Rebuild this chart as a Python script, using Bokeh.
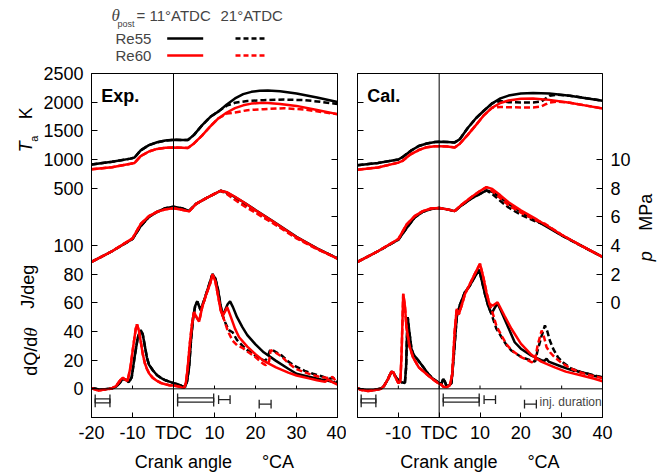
import math
from bokeh.plotting import figure
from bokeh.models import Range1d, LinearAxis, FixedTicker, Span, Label
from bokeh.layouts import column, row
from bokeh.embed import file_html
from bokeh.resources import INLINE

FONT = "Liberation Sans"
SERIF = "Liberation Serif"
BLACK = "#000000"
RED = "#ff0000"

# ---------------- axes / ticks ----------------
x_lim = (-20, 40)
dq_lim = (-20, 220)       # heat release rate axis (J/deg), left
T_lim = (-3500, 2500)     # temperature axis (K), upper left
p_lim = (-8, 16)          # pressure axis (MPa), right
x_ticks = [-20, -10, 0, 10, 20, 30, 40]
x_tick_labels = ["-20", "-10", "TDC", "10", "20", "30", "40"]
dq_ticks = [0, 20, 40, 60, 80, 100]
T_ticks = [500, 1000, 1500, 2000, 2500]
p_ticks = [0, 2, 4, 6, 8, 10]

# ---------------- Exp. panel data ----------------
exp_T_ang = [-20, -15, -10.5, -9.5, -8, -6, -4, -2, 0, 2, 3.5, 5, 7, 9, 11, 13, 15, 17, 19, 21, 23, 26, 30, 35, 40]
exp_T_re55_11 = [912, 960, 1015, 1035, 1160, 1250, 1300, 1330, 1344, 1342, 1340, 1430, 1600, 1745, 1840, 1960, 2065, 2140, 2180, 2198, 2202, 2190, 2150, 2080, 2002]
exp_T_re60_11 = [829, 865, 925, 940, 1060, 1140, 1185, 1205, 1210, 1207, 1200, 1280, 1420, 1580, 1720, 1820, 1895, 1945, 1975, 1985, 1985, 1970, 1935, 1865, 1791]
exp_T_tail_ang = [13, 15, 18, 22, 27, 32, 36, 40]
exp_T_re55_21_tail = [1940, 1990, 2020, 2035, 2045, 2035, 2005, 1967]
exp_T_re60_21_tail = [1800, 1820, 1860, 1878, 1895, 1870, 1830, 1790]

exp_p_ang = [-20, -15, -10, -8, -6, -4, -2, 0, 2, 3.8, 5.5, 8, 10, 11.5, 13, 15, 17.5, 20, 24, 30, 35, 40]
exp_p_re55_11 = [2.85, 3.6, 4.45, 5.35, 6.0, 6.35, 6.6, 6.7, 6.6, 6.42, 6.9, 7.3, 7.6, 7.82, 7.7, 7.38, 6.95, 6.48, 5.74, 4.6, 3.8, 3.1]
exp_p_re60_11 = [2.85, 3.6, 4.5, 5.5, 6.05, 6.35, 6.52, 6.6, 6.5, 6.38, 6.9, 7.3, 7.6, 7.82, 7.72, 7.4, 6.95, 6.45, 5.72, 4.58, 3.78, 3.08]
exp_p_tail_ang = [13, 14, 16, 18, 20, 24, 30, 35, 40]
exp_p_re55_21_tail = [7.62, 7.45, 7.05, 6.7, 6.35, 5.65, 4.55, 3.78, 3.1]
exp_p_re60_21_tail = [7.6, 7.38, 6.98, 6.62, 6.28, 5.6, 4.5, 3.75, 3.08]

exp_dq_ang_re55 = [-20, -19, -18, -17, -16, -15, -14, -13, -12.4, -11.5, -10.9, -10.2, -9.5, -8.7, -8.0, -7.5, -7, -6.5, -6,
                   -5, -4, -3, -2, -1, 0, 1, 2, 2.8, 3.3, 3.8, 4.3, 4.8, 5.3, 5.8, 6.2, 6.6, 7.5, 8.5, 9.5, 10.2, 10.8,
                   11.5, 12, 12.6, 13.2, 13.8, 14.5, 15.5, 16.8, 18, 20, 22, 25, 28, 30, 33, 36, 38, 40]
exp_dq_re55_11 = [0.5, 0, -0.7, -0.5, 0, 0.3, 1.5, 4.5, 7, 6.2, 4.6, 8, 22, 36, 41, 38, 30, 22, 17,
                  12.8, 9.5, 7.5, 6, 5, 4, 3.2, 2, 1.2, 5, 15, 35, 50, 58, 61, 58, 55, 62, 71, 80, 77, 70,
                  58, 51, 55, 59, 61, 57, 50, 43, 37.5, 31, 25.5, 19.5, 14, 10.5, 8.5, 6.5, 5.5, 4]
exp_dq_ang_re60 = [-20, -19, -18.3, -17, -16, -15, -14, -13, -12.4, -11.8, -11.2, -10.5, -9.8, -9.2, -8.9, -8.4, -7.5, -7,
                   -6.5, -5.9, -5, -4, -3, -2, -1, 0, 1, 2, 2.6, 3, 3.4, 4, 4.5, 5, 5.6, 6.25, 7, 8,
                   9, 9.5, 10.2, 10.8, 11.5, 12, 12.6, 13.1, 14, 15, 16, 18, 19.9, 22, 25, 28, 30, 33, 35, 36.3,
                   37, 37.8, 38.5, 40]
exp_dq_re60_11 = [0.3, -0.5, -1.3, -0.5, -0.2, 0.3, 2, 6, 7.7, 6.5, 5.5, 15, 30, 42, 45, 40, 24.4, 18,
                  14, 10.5, 7.5, 5.5, 4, 3.2, 2.5, 2.3, 1.8, 1, 0.7, 4, 12.8, 32, 45, 53.5, 50, 47, 57, 66,
                  74, 80, 75, 66, 55, 51, 54, 57, 50, 42, 36, 29.5, 24.4, 19.5, 15, 11.3, 9.3, 7.3, 6, 5.3,
                  5, 6.5, 5, 3]
exp_dq_tail_ang_re55 = [12.8, 13.5, 14.4, 15.5, 16.8, 18, 19.9, 21, 22.3, 22.8, 23.5, 24.2, 26.5, 28, 29.8, 32, 34, 36.3, 38, 39, 40]
exp_dq_re55_21_tail = [45, 41, 39.5, 34, 30.2, 27, 23.2, 21, 19.7, 21, 26.7, 27, 23, 19, 15.6, 12.5, 10.5, 8.6, 7, 7.5, 5.3]
exp_dq_tail_ang_re60 = [12.6, 13.3, 14.4, 15.5, 16.8, 18, 19.9, 21, 21.9, 22.5, 23.3, 23.7, 24.5, 26.5, 28, 29.8, 32, 34, 36.3, 38, 38.8, 40]
exp_dq_re60_21_tail = [46, 40, 33.7, 30.5, 28.6, 26, 22.3, 19.5, 17.4, 16.5, 19, 27, 26, 22.3, 18, 14, 11.5, 9.5, 8, 7.5, 8.3, 4]

# ---------------- Cal. panel data ----------------
cal_T_ang = [-20, -15, -10, -9, -7, -5, -3, -1, 0, 2, 3.8, 5, 7, 9, 11, 13, 15, 17, 20, 23, 27, 32, 36, 40]
cal_T_re55_11 = [899, 940, 1000, 1040, 1150, 1235, 1280, 1305, 1310, 1305, 1298, 1350, 1550, 1720, 1855, 1980, 2065, 2115, 2150, 2160, 2150, 2113, 2070, 2025]
cal_T_re60_11 = [822, 860, 945, 975, 1090, 1165, 1215, 1232, 1233, 1225, 1210, 1270, 1430, 1600, 1775, 1905, 1985, 2030, 2060, 2066, 2040, 1990, 1940, 1890]
cal_T_tail_ang = [15, 17, 20, 23, 25, 26, 27, 29, 32, 36, 40]
cal_T_re55_21_tail = [2020, 2000, 1995, 1995, 2010, 2060, 2110, 2130, 2113, 2070, 2025]
cal_T_re60_21_tail = [1915, 1912, 1908, 1908, 1925, 1960, 1995, 2010, 1990, 1940, 1890]

cal_p_ang = [-20, -15, -10, -8, -6, -4, -2, 0, 2, 3.8, 5.5, 8, 10, 11.6, 13, 15, 17, 20, 24, 30, 35, 40]
cal_p_re55_11 = [2.85, 3.6, 4.4, 5.2, 5.95, 6.35, 6.55, 6.62, 6.52, 6.4, 6.8, 7.3, 7.6, 7.84, 7.75, 7.35, 6.9, 6.35, 5.7, 4.7, 3.95, 3.2]
cal_p_re60_11 = [2.85, 3.6, 4.45, 5.45, 6.05, 6.4, 6.58, 6.62, 6.52, 6.4, 6.85, 7.4, 7.8, 8.07, 7.95, 7.5, 7.02, 6.45, 5.8, 4.75, 3.95, 3.2]
cal_p_tail_ang = [13, 15, 17, 20, 23, 26, 30, 35, 40]
cal_p_re55_21_tail = [7.6, 7.1, 6.65, 6.15, 5.75, 5.45, 4.7, 3.95, 3.2]
cal_p_re60_21_tail = [7.8, 7.3, 6.8, 6.3, 5.85, 5.5, 4.75, 3.95, 3.2]

cal_dq_ang_re55 = [-20, -19, -17.4, -16, -14.2, -13.5, -12.5, -11.7, -11.2, -10.9, -10, -9.2, -8.4, -8.1, -7.9, -7.7, -7.4, -7.0, -6.8, -6.3,
                   -5.1, -4, -2.7, -1.5, 0, 0.5, 1, 1.4, 1.8, 2.5, 3, 3.5, 4.3, 5, 6.3, 7.5, 8.5, 9.8, 10.4, 11.2,
                   12, 12.8, 13.5, 14.3, 15.5, 16.9, 18.5, 20, 22.6, 25, 25.8, 26.3, 26.8, 29.9, 33, 33.5, 34, 36.5, 38, 40]
cal_dq_re55_11 = [0.3, -0.5, -1.2, -0.8, 0.3, 2, 7, 12, 11.5, 9.4, 6, 4.6, 4, 15, 35, 50, 42, 33, 28, 24,
                  19.7, 15.5, 10.5, 7, 4, 3, 7, 5, 2, 2.5, 4, 20, 50, 58, 67.4, 72, 77, 83, 76, 66.3,
                  58, 52.3, 56, 59.7, 52, 43, 32.5, 28, 23.2, 20, 19.5, 21, 19, 15.6, 12.5, 13, 12, 10.5, 9, 8.1]
cal_dq_ang_re60 = [-20, -19, -17.4, -16, -14.2, -13.5, -12.5, -11.7, -11.2, -10.7, -10, -9.5, -9.2, -8.8, -8.4, -8, -7.3, -6.4, -5, -2.7,
                   -1, 0, 0.5, 1, 1.8, 2.6, 3.2, 3.8, 4.3, 4.8, 5.5, 6.3, 7.5, 8.7, 10, 10.8, 11.6, 12.3, 13.1, 14.3,
                   16, 17.7, 20, 22.6, 25, 28.3, 31, 34.9, 38, 40]
cal_dq_re60_11 = [0.3, -0.8, -1.5, -1, 0, 2, 7, 12, 11.5, 8, 4, 5, 25, 66.3, 58, 43, 30, 22, 15, 9.3,
                  5.5, 3.5, 3, 1.5, 1, 2.5, 10, 40, 55.8, 52, 58, 66, 73, 80, 87.2, 78, 67, 59.3, 58, 60.4,
                  51, 41.9, 31.5, 23.7, 19, 15, 12, 9.3, 7, 5.3]
cal_dq_tail_ang_re55 = [14, 15.3, 16.5, 17.7, 20.2, 22.6, 23.5, 24.1, 25, 25.9, 26.5, 27.1, 28, 29.1, 30.5, 32.4, 33.5, 35, 37, 40]
cal_dq_re55_21_tail = [42, 36, 30.5, 26.7, 22, 19.7, 19, 26.7, 36, 44.2, 40, 33.7, 27.5, 22, 18, 14, 13, 11.5, 10, 8]
cal_dq_tail_ang_re60 = [13.2, 14, 15.3, 16.5, 17.7, 20.2, 22.6, 23.4, 24.1, 25.1, 25.7, 26.3, 27.3, 28.3, 30, 32.4, 35, 37, 40]
cal_dq_re60_21_tail = [52, 44, 37, 31, 27, 22, 18.6, 19, 30.2, 40.7, 36, 29, 25, 22, 18, 14, 11, 9.5, 7.4]

# injection durations (deg CA) and their row (in dQ units)
inj_start = [-19.1, -19.1, 1.0, 1.0, 11.0, 20.9]
inj_end = [-15.5, -15.5, 9.8, 9.8, 13.8, 23.8]
inj_level = [-7.0, -9.8, -6.3, -9.3, -7.5, -10.7]

# ---------------- layout sizes ----------------
LEG_H = 63
MAIN_H = 475 - LEG_H
TOP_B = 10
BOT_B = 58


def join(head_x, head_y, split, tail_x, tail_y):
    xs = [a for a in head_x if a <= split]
    ys = [b for a, b in zip(head_x, head_y) if a <= split]
    return xs + list(tail_x), ys + list(tail_y)


def t_on_dq(t):
    return round(dq_lim[0] + (t - T_lim[0]) * (dq_lim[1] - dq_lim[0]) / (T_lim[1] - T_lim[0]), 6)


def style_axis(ax, show_labels, tick_in):
    ax.major_tick_in = tick_in
    ax.major_tick_out = 0
    ax.minor_tick_in = 0
    ax.minor_tick_out = 0
    ax.axis_line_color = BLACK
    ax.major_tick_line_color = BLACK
    ax.major_label_text_font = FONT
    if show_labels:
        ax.major_label_text_font_size = "18px"
        ax.major_label_text_color = BLACK
        ax.major_label_standoff = 8
    else:
        ax.major_label_text_font_size = "1px"
        ax.major_label_text_color = None
        ax.major_label_standoff = 0


def make_panel(width, bl, br, tag, T, P, Q, left_labels, right_labels, xt, xl):
    f = figure(width=width, height=MAIN_H, x_range=Range1d(*x_lim), y_range=Range1d(*dq_lim),
               output_backend="svg", toolbar_location=None,
               min_border_left=bl, min_border_right=br, min_border_top=TOP_B, min_border_bottom=BOT_B)
    f.extra_y_ranges = {"T": Range1d(*T_lim), "p": Range1d(*p_lim)}
    f.xgrid.visible = False
    f.ygrid.visible = False
    f.outline_line_color = BLACK
    f.outline_line_width = 1
    f.background_fill_color = "white"
    f.border_fill_color = "white"

    xa = f.xaxis[0]
    xa.ticker = FixedTicker(ticks=xt)
    xa.major_label_overrides = {k: v for k, v in zip(xt, xl)}
    style_axis(xa, True, 5)
    xa.major_label_standoff = 5
    xa.axis_label = "Crank angle\u00a0\u00a0\u00a0\u00a0\u00a0\u00a0°CA"
    xa.axis_label_text_font = FONT
    xa.axis_label_text_font_style = "normal"
    xa.axis_label_text_font_size = "18px"
    xa.axis_label_text_color = BLACK
    xa.axis_label_standoff = 6

    ya = f.yaxis[0]
    yt = dq_ticks + [t_on_dq(t) for t in T_ticks]
    ylabels = [str(v) for v in dq_ticks] + [str(t) for t in T_ticks]
    ya.ticker = FixedTicker(ticks=yt)
    ya.major_label_overrides = {k: v for k, v in zip(yt, ylabels)}
    style_axis(ya, left_labels, 6)

    ra = LinearAxis(y_range_name="p", ticker=FixedTicker(ticks=p_ticks))
    style_axis(ra, right_labels, 6)
    f.add_layout(ra, "right")

    # reference lines: TDC and zero heat release
    f.add_layout(Span(location=0, dimension="height", line_color=BLACK, line_width=1))
    f.add_layout(Span(location=0, dimension="width", line_color=BLACK, line_width=1))
    inner = x_ticks[1:-1]
    f.segment(x0=inner, y0=[0] * len(inner), x1=inner, y1=[2.3] * len(inner), line_color=BLACK, line_width=1)

    # injection bars
    lo = [v - 3 for v in inj_level]
    hi = [v + 3 for v in inj_level]
    f.segment(x0=inj_start, y0=inj_level, x1=inj_end, y1=inj_level, line_color="#222222", line_width=1.3)
    f.segment(x0=inj_start, y0=lo, x1=inj_start, y1=hi, line_color="#222222", line_width=1.3)
    f.segment(x0=inj_end, y0=lo, x1=inj_end, y1=hi, line_color="#222222", line_width=1.3)

    lw = 2.5
    dash = "6 3"
    f.line(T[0], T[1], y_range_name="T", line_color=BLACK, line_width=lw)
    f.line(T[2], T[3], y_range_name="T", line_color=BLACK, line_width=lw, line_dash=dash)
    f.line(T[0], T[4], y_range_name="T", line_color=RED, line_width=lw)
    f.line(T[5], T[6], y_range_name="T", line_color=RED, line_width=lw, line_dash=dash)
    f.line(P[0], P[1], y_range_name="p", line_color=BLACK, line_width=lw)
    f.line(P[2], P[3], y_range_name="p", line_color=BLACK, line_width=lw, line_dash=dash)
    f.line(P[0], P[4], y_range_name="p", line_color=RED, line_width=lw)
    f.line(P[5], P[6], y_range_name="p", line_color=RED, line_width=lw, line_dash=dash)
    f.line(Q[0], Q[1], line_color=BLACK, line_width=lw)
    f.line(Q[2], Q[3], line_color=BLACK, line_width=lw, line_dash=dash)
    f.line(Q[4], Q[5], line_color=RED, line_width=lw)
    f.line(Q[6], Q[7], line_color=RED, line_width=lw, line_dash=dash)

    f.add_layout(Label(x=-17.6, y=204, text=tag, text_font=FONT, text_font_style="bold",
                       text_font_size="18px", text_align="left", text_baseline="middle", text_color=BLACK))
    return f


def make_strip(width, height, top, bottom, yr):
    s = figure(width=width, height=height, x_range=Range1d(0, width), y_range=yr,
               output_backend="svg", toolbar_location=None,
               min_border_left=0, min_border_right=0, min_border_top=top, min_border_bottom=bottom,
               x_axis_location=None, y_axis_location=None)
    s.xgrid.visible = False
    s.ygrid.visible = False
    s.outline_line_color = None
    s.background_fill_color = "white"
    s.border_fill_color = "white"
    return s


# ---- Exp. panel series ----
eT55d = join(exp_T_ang, exp_T_re55_11, 12, exp_T_tail_ang, exp_T_re55_21_tail)
eT60d = join(exp_T_ang, exp_T_re60_11, 12, exp_T_tail_ang, exp_T_re60_21_tail)
eP55d = join(exp_p_ang, exp_p_re55_11, 12, exp_p_tail_ang, exp_p_re55_21_tail)
eP60d = join(exp_p_ang, exp_p_re60_11, 12, exp_p_tail_ang, exp_p_re60_21_tail)
eQ55d = join(exp_dq_ang_re55, exp_dq_re55_11, 12, exp_dq_tail_ang_re55, exp_dq_re55_21_tail)
eQ60d = join(exp_dq_ang_re60, exp_dq_re60_11, 12, exp_dq_tail_ang_re60, exp_dq_re60_21_tail)

p1 = make_panel(306, 50, 9, "Exp.",
                (exp_T_ang, exp_T_re55_11, eT55d[0], eT55d[1], exp_T_re60_11, eT60d[0], eT60d[1]),
                (exp_p_ang, exp_p_re55_11, eP55d[0], eP55d[1], exp_p_re60_11, eP60d[0], eP60d[1]),
                (exp_dq_ang_re55, exp_dq_re55_11, eQ55d[0], eQ55d[1], exp_dq_ang_re60, exp_dq_re60_11, eQ60d[0], eQ60d[1]),
                True, False, x_ticks, x_tick_labels)

cT55d = join(cal_T_ang, cal_T_re55_11, 13, cal_T_tail_ang, cal_T_re55_21_tail)
cT60d = join(cal_T_ang, cal_T_re60_11, 13, cal_T_tail_ang, cal_T_re60_21_tail)
cP55d = join(cal_p_ang, cal_p_re55_11, 11.6, cal_p_tail_ang, cal_p_re55_21_tail)
cP60d = join(cal_p_ang, cal_p_re60_11, 11.6, cal_p_tail_ang, cal_p_re60_21_tail)
cQ55d = join(cal_dq_ang_re55, cal_dq_re55_11, 12.8, cal_dq_tail_ang_re55, cal_dq_re55_21_tail)
cQ60d = join(cal_dq_ang_re60, cal_dq_re60_11, 12.3, cal_dq_tail_ang_re60, cal_dq_re60_21_tail)

p2 = make_panel(287, 11, 30, "Cal.",
                (cal_T_ang, cal_T_re55_11, cT55d[0], cT55d[1], cal_T_re60_11, cT60d[0], cT60d[1]),
                (cal_p_ang, cal_p_re55_11, cP55d[0], cP55d[1], cal_p_re60_11, cP60d[0], cP60d[1]),
                (cal_dq_ang_re55, cal_dq_re55_11, cQ55d[0], cQ55d[1], cal_dq_ang_re60, cal_dq_re60_11, cQ60d[0], cQ60d[1]),
                False, True, x_ticks[1:], x_tick_labels[1:])
p2.add_layout(Label(x=24.6, y=-9.5, text="inj. duration", text_font=FONT,
                    text_font_size="12px", text_align="left", text_baseline="middle"))

# ---- side title strips (same vertical scale as the panels) ----
half_pi = math.pi / 2
left = make_strip(40, MAIN_H, TOP_B, BOT_B, Range1d(*dq_lim))
for xx, yy, txt, sz, sty in [(25, 168.9, "T", "18px", "italic"), (33, 174.6, "a", "11px", "normal"),
                             (25, 192.2, "K", "18px", "normal"), (27.5, 71.2, "J/deg", "18px", "normal"),
                             (30, 22.7, "dQ/d", "18px", "normal")]:
    left.add_layout(Label(x=xx, y=yy, text=txt, angle=half_pi, text_font=FONT, text_font_style=sty,
                          text_font_size=sz, text_align="center", text_baseline="middle", text_color=BLACK))
left.add_layout(Label(x=30, y=39.6, text="θ", angle=half_pi, text_font=SERIF, text_font_style="italic",
                      text_font_size="19px", text_align="center", text_baseline="middle", text_color=BLACK))

right = make_strip(34, MAIN_H, TOP_B, BOT_B, Range1d(*dq_lim))
right.add_layout(Label(x=12.5, y=123.2, text="MPa", angle=half_pi, text_font=FONT,
                       text_font_size="18px", text_align="center", text_baseline="middle", text_color=BLACK))
right.add_layout(Label(x=12.5, y=92.5, text="p", angle=half_pi, text_font=FONT, text_font_style="italic",
                       text_font_size="18px", text_align="center", text_baseline="middle", text_color=BLACK))

# ---------------- legend strip ----------------
leg = make_strip(667, LEG_H, 0, 0, Range1d(LEG_H, 0))
leg_rows_y = [37.5, 54.5]
leg_row_names = ["Re55", "Re60"]
leg_row_colors = [BLACK, RED]
leg_solid_x = [166.7, 202.7]
leg_dash_x = [235, 265]

leg.add_layout(Label(x=111, y=15, text="θ", text_font=SERIF, text_font_style="italic",
                     text_font_size="17px", text_align="left", text_baseline="middle"))
leg.add_layout(Label(x=117, y=23, text="post", text_font=FONT,
                     text_font_size="9px", text_align="left", text_baseline="middle"))
leg.add_layout(Label(x=136, y=15, text="= 11°ATDC", text_font=FONT,
                     text_font_size="15px", text_align="left", text_baseline="middle"))
leg.add_layout(Label(x=220, y=15, text="21°ATDC", text_font=FONT,
                     text_font_size="15px", text_align="left", text_baseline="middle"))
for yy, name, col in zip(leg_rows_y, leg_row_names, leg_row_colors):
    leg.add_layout(Label(x=115, y=yy, text=name, text_font=FONT, text_font_size="15px",
                         text_align="left", text_baseline="middle"))
    leg.line(leg_solid_x, [yy + 0.5, yy + 0.5], line_color=col, line_width=2.5)
    leg.line(leg_dash_x, [yy + 0.5, yy + 0.5], line_color=col, line_width=2.5, line_dash="5 3")

layout = column(leg, row(left, p1, p2, right))
open("out.html", "w").write(file_html(layout, INLINE))
